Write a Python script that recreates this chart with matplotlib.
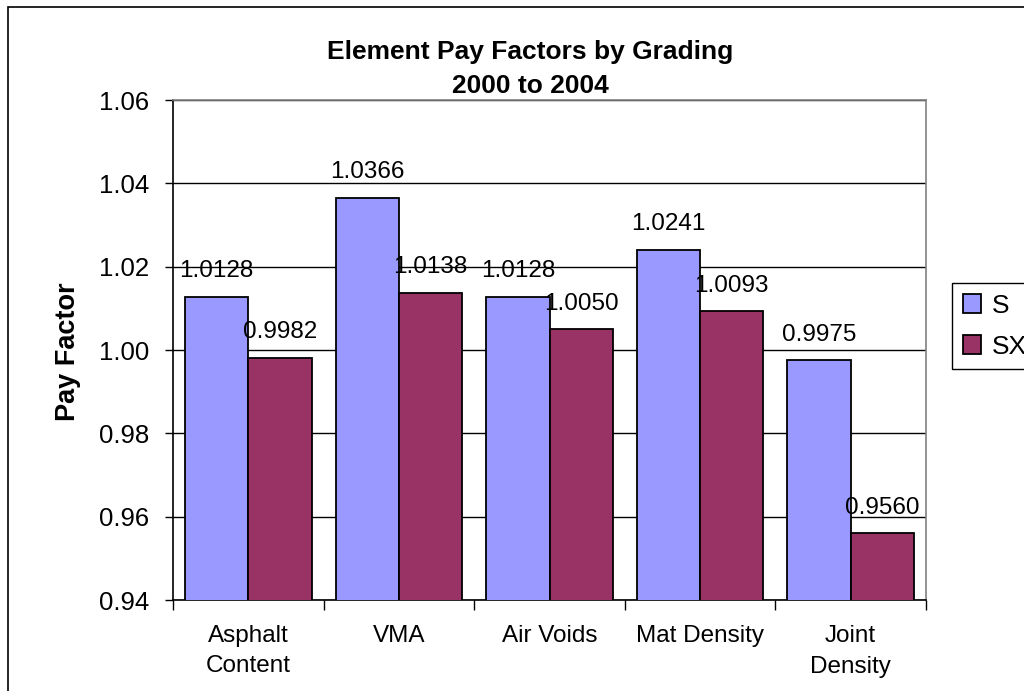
import matplotlib
matplotlib.use("Agg")
import matplotlib.pyplot as plt
import numpy as np
from matplotlib.patches import Rectangle

plt.rcParams['font.family'] = ['Liberation Sans', 'DejaVu Sans']

categories = ["Asphalt\nContent", "VMA", "Air Voids", "Mat Density", "Joint\nDensity"]
s_vals = [1.0128, 1.0366, 1.0128, 1.0241, 0.9975]
sx_vals = [0.9982, 1.0138, 1.0050, 1.0093, 0.9560]
yticks = [0.94, 0.96, 0.98, 1.00, 1.02, 1.04, 1.06]
title_lines = ["Element Pay Factors by Grading", "2000 to 2004"]

fig = plt.figure(figsize=(10.24, 6.91), dpi=100)
ax = fig.add_axes([173 / 1024, 1 - 600 / 691, 753 / 1024, 500 / 691])

x = np.arange(len(categories))
w = 0.42
b1 = ax.bar(x - w / 2, s_vals, w, color="#9999FF", edgecolor="black", linewidth=1.3, label="S", zorder=3)
b2 = ax.bar(x + w / 2, sx_vals, w, color="#993366", edgecolor="black", linewidth=1.3, label="SX", zorder=3)

for bars, vals in ((b1, s_vals), (b2, sx_vals)):
    for r, v in zip(bars, vals):
        ax.annotate(f"{v:.4f}", (r.get_x() + r.get_width() / 2, v), xytext=(0, 14),
                    textcoords="offset points", ha="center", va="baseline",
                    fontsize=17.5, zorder=5)

ax.set_ylim(0.94, 1.06)
ax.set_xlim(-0.5, len(categories) - 0.5)
ax.set_yticks(yticks)
ax.set_yticklabels([f"{t:.2f}" for t in yticks], fontsize=18.5)
ax.yaxis.grid(True, color="black", linewidth=1.0, zorder=0)
ax.tick_params(axis="y", direction="out", length=6, width=1, pad=11)

ax.set_xticks(np.arange(len(categories) + 1) - 0.5)
ax.set_xticklabels([])
ax.set_xticks(x, minor=True)
ax.set_xticklabels(categories, minor=True, fontsize=17.5, linespacing=1.5)
ax.tick_params(axis="x", which="major", direction="out", length=7, width=1)
ax.tick_params(axis="x", which="minor", length=0, pad=18)

for s in ("top", "right"):
    ax.spines[s].set_color("#808080")
for s in ("left", "bottom"):
    ax.spines[s].set_color("black")
for s in ax.spines.values():
    s.set_linewidth(1.2)

ax.set_ylabel("Pay Factor", fontsize=19.5, fontweight="bold")
ax.yaxis.set_label_coords((81 - 173) / 753, 0.496)

fig.text(530 / 1024, 1 - 59 / 691, title_lines[0], ha="center", va="baseline",
         fontsize=19, fontweight="bold")
fig.text(530 / 1024, 1 - 93 / 691, title_lines[1], ha="center", va="baseline",
         fontsize=19, fontweight="bold")

leg = fig.legend(handles=[b1, b2], labels=["S", "SX"], loc="upper left",
                 bbox_to_anchor=(952 / 1024, 1 - 283 / 691), fontsize=19,
                 frameon=True, fancybox=False, edgecolor="black", framealpha=1,
                 handlelength=0.7, handleheight=0.7, handletextpad=0.4,
                 borderpad=0.4, labelspacing=0.65, borderaxespad=0)
leg.get_frame().set_linewidth(1.0)

fig.patches.append(Rectangle((8 / 1024, -0.1), 1.2, 1 - 7 / 691 + 0.1,
                             transform=fig.transFigure, fill=False,
                             edgecolor="black", linewidth=1.2, zorder=0))

fig.savefig("out.png", dpi=100)
